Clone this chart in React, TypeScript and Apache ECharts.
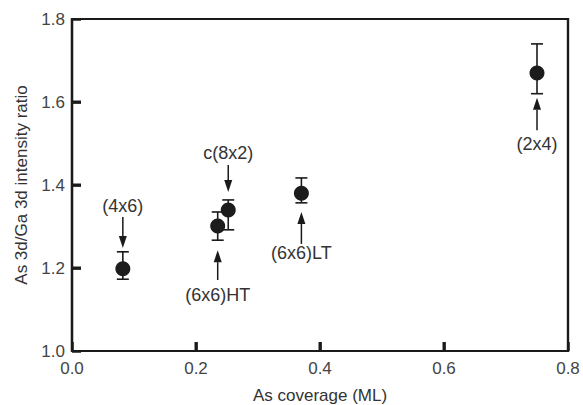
import React, { useEffect, useRef } from "react";
import * as echarts from "echarts";

const coverage = [0.082, 0.235, 0.252, 0.37, 0.75];
const ratio = [1.198, 1.301, 1.34, 1.38, 1.67];
const errLow = [1.173, 1.267, 1.292, 1.357, 1.62];
const errHigh = [1.239, 1.335, 1.364, 1.417, 1.74];

const annLabels = ["(4x6)", "(6x6)HT", "c(8x2)", "(6x6)LT", "(2x4)"];
const annX = [0.082, 0.235, 0.252, 0.37, 0.75];
const arrowFrom = [1.323, 1.171, 1.448, 1.258, 1.532];
const arrowTo = [1.248, 1.243, 1.383, 1.335, 1.61];
const labelY = [1.35, 1.135, 1.477, 1.235, 1.5];

const xTicks = { min: 0, max: 0.8, interval: 0.2 };
const yTicks = { min: 1.0, max: 1.8, interval: 0.2 };
const xInnerTicks = [0.2, 0.4, 0.6];
const yInnerTicks = [1.2, 1.4, 1.6];

const FONT = "'Liberation Sans', Arial, sans-serif";
const INK = "#1a1a1a";

export default function App() {
  const ref = useRef<HTMLDivElement>(null);
  useEffect(() => {
    document.body.style.margin = "0";
    const chart = echarts.init(ref.current!, null, { renderer: "svg" });
    const pts = coverage.map((x, i) => [x, ratio[i]]);
    const errs = coverage.map((x, i) => [x, errLow[i], errHigh[i]]);
    const anns = annX.map((x, i) => [x, arrowFrom[i], arrowTo[i], labelY[i], i]);
    const labelCommon = {
      color: "#444",
      fontSize: 17,
      fontFamily: FONT,
      formatter: (v: number) => v.toFixed(1),
    };
    const lineCommon = {
      axisLine: { show: true, onZero: false, lineStyle: { color: INK, width: 2.2 } },
      axisTick: { show: true, inside: true, length: 9, lineStyle: { color: INK, width: 2.5 } },
      splitLine: { show: false },
    };
    chart.setOption({
      animation: false,
      grid: {
        left: 72,
        right: 15,
        top: 19,
        bottom: 54,
        show: true,
        borderColor: INK,
        borderWidth: 2.2,
        containLabel: false,
        outerBoundsMode: "none",
      },
      xAxis: {
        type: "value",
        min: xTicks.min,
        max: xTicks.max,
        interval: xTicks.interval,
        ...lineCommon,
        name: "As coverage (ML)",
        nameLocation: "middle",
        nameGap: 36,
        nameTextStyle: { color: "#333", fontSize: 17, fontFamily: FONT },
        axisLabel: { ...labelCommon, margin: 9 },
      },
      yAxis: {
        type: "value",
        min: yTicks.min,
        max: yTicks.max,
        interval: yTicks.interval,
        ...lineCommon,
        name: "As 3d/Ga 3d intensity ratio",
        nameLocation: "middle",
        nameGap: 42,
        nameTextStyle: { color: "#333", fontSize: 17, fontFamily: FONT },
        axisLabel: { ...labelCommon, margin: 7 },
      },
      series: [
        {
          type: "custom",
          data: [[xTicks.min, yTicks.min, xTicks.max, yTicks.max]],
          z: 5,
          clip: false,
          silent: true,
          renderItem: (params: any, api: any) => {
            const p0 = api.coord([api.value(0), api.value(1)]);
            const p1 = api.coord([api.value(2), api.value(3)]);
            const children: any[] = [
              {
                type: "rect",
                shape: { x: p0[0], y: p1[1], width: p1[0] - p0[0], height: p0[1] - p1[1] },
                style: { stroke: INK, lineWidth: 2.2, fill: "none" },
              },
            ];
            xInnerTicks.forEach((t) => {
              const c = api.coord([t, api.value(1)]);
              children.push({
                type: "rect",
                shape: { x: c[0] - 1.5, y: c[1] - 9, width: 3, height: 9 },
                style: { fill: INK },
              });
            });
            yInnerTicks.forEach((t) => {
              const c = api.coord([api.value(0), t]);
              children.push({
                type: "rect",
                shape: { x: c[0], y: c[1] - 1.5, width: 9, height: 3 },
                style: { fill: INK },
              });
            });
            return { type: "group", children };
          },
        },
        {
          type: "custom",
          data: errs,
          z: 2,
          renderItem: (params: any, api: any) => {
            const x = api.value(0);
            const lo = api.coord([x, api.value(1)]);
            const hi = api.coord([x, api.value(2)]);
            const w = 6;
            const st = { stroke: INK, lineWidth: 1.6 };
            return {
              type: "group",
              children: [
                { type: "line", shape: { x1: lo[0], y1: lo[1], x2: hi[0], y2: hi[1] }, style: st },
                { type: "line", shape: { x1: lo[0] - w, y1: lo[1], x2: lo[0] + w, y2: lo[1] }, style: st },
                { type: "line", shape: { x1: hi[0] - w, y1: hi[1], x2: hi[0] + w, y2: hi[1] }, style: st },
              ],
            };
          },
        },
        {
          type: "scatter",
          data: pts,
          z: 3,
          symbol: "circle",
          symbolSize: 15,
          itemStyle: { color: "#1c1c1c", opacity: 1 },
        },
        {
          type: "custom",
          data: anns,
          z: 4,
          renderItem: (params: any, api: any) => {
            const x = api.value(0);
            const a = api.coord([x, api.value(1)]);
            const b = api.coord([x, api.value(2)]);
            const l = api.coord([x, api.value(3)]);
            const idx = api.value(4);
            const dir = b[1] > a[1] ? 1 : -1;
            const headLen = 12;
            const hw = 4;
            return {
              type: "group",
              children: [
                {
                  type: "line",
                  shape: { x1: a[0], y1: a[1], x2: b[0], y2: b[1] - dir * headLen },
                  style: { stroke: INK, lineWidth: 1.5 },
                },
                {
                  type: "polygon",
                  shape: {
                    points: [
                      [b[0], b[1]],
                      [b[0] - hw, b[1] - dir * headLen],
                      [b[0] + hw, b[1] - dir * headLen],
                    ],
                  },
                  style: { fill: INK },
                },
                {
                  type: "text",
                  style: {
                    text: annLabels[idx],
                    x: l[0],
                    y: l[1],
                    align: "center",
                    verticalAlign: "middle",
                    fontSize: 18,
                    fontFamily: FONT,
                    fill: "#333",
                  },
                },
              ],
            };
          },
        },
      ],
    });
    return () => chart.dispose();
  }, []);
  return <div ref={ref} style={{ width: 583, height: 405 }} />;
}
